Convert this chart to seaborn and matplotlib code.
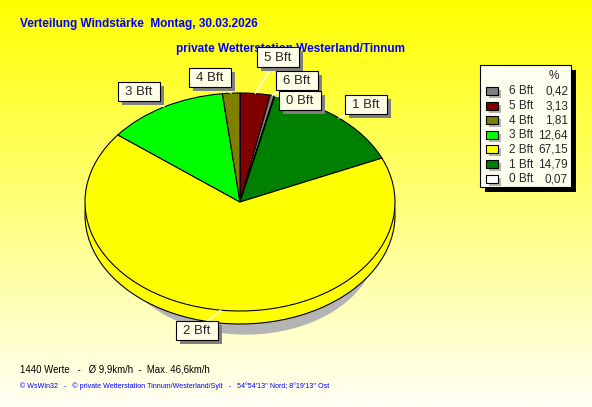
import numpy as np
import matplotlib
matplotlib.use('Agg')
import matplotlib.pyplot as plt
from matplotlib.patches import Rectangle
from matplotlib import font_manager
import seaborn as sns

# Data (Beaufort classes, share in %)
categories = ['0 Bft', '1 Bft', '2 Bft', '3 Bft', '4 Bft', '5 Bft', '6 Bft']
values = [0.07, 14.79, 67.15, 12.64, 1.81, 3.13, 0.42]
value_labels = ['0,07', '14,79', '67,15', '12,64', '1,81', '3,13', '0,42']
colors = ['#ffffff', '#008000', '#ffff00', '#00ff00', '#808000', '#800000', '#808080']
pie_order = [5, 6, 0, 1, 2, 3, 4]   # clockwise from the top
legend_order = [6, 5, 4, 3, 2, 1, 0]

title = 'Verteilung Windstärke  Montag, 30.03.2026'
subtitle = 'private Wetterstation Westerland/Tinnum'
stats_text = '1440 Werte   -   Ø 9,9km/h  -  Max. 46,6km/h'
footer = ("© WsWin32   -   © private Wetterstation Tinnum/Westerland/Sylt   -   "
          "54°54'13'' Nord; 8°19'13'' Ost")

# Layout (pixels)
W, H = 592, 407
cx, cy = 240, 202          # pie centre
rx, ry = 155, 109          # ellipse radii
depth = 13
label_boxes = {'5 Bft': (278, 57), '6 Bft': (297, 80), '0 Bft': (300, 100),
               '1 Bft': (366, 104), '2 Bft': (197, 330), '3 Bft': (139, 91),
               '4 Bft': (210, 77)}

sns.set_theme(style='white')
plt.rcParams['font.family'] = ['Liberation Sans', 'DejaVu Sans']

names = {f.name for f in font_manager.fontManager.ttflist}
narrow = 'Liberation Sans Narrow' in names
head_font = ['Liberation Sans Narrow'] if narrow else ['Liberation Sans']
head_size = 10 if narrow else 8.5

fig = plt.figure(figsize=(W / 100, H / 100), dpi=100)

# background gradient
bg = fig.add_axes([0, 0, 1, 1])
grad = np.linspace(0, 245, 256)[:, None]
img = np.ones((256, 2, 3))
img[:, :, 2] = grad / 255
bg.imshow(img, aspect='auto', extent=[0, 1, 0, 1])
bg.axis('off')

# pie axes: data units = ellipse radii
ax = fig.add_axes([0, 0, 1, 1])
ax.patch.set_alpha(0)

vals = [values[i] for i in pie_order]
cols = sns.color_palette([colors[i] for i in pie_order])
edge = dict(edgecolor='black', linewidth=0.8)

# shadow
ax.pie(vals, colors=['#b4b4b4'] * len(vals), startangle=90, counterclock=False,
       radius=0.85, center=(6 / rx, -40 / ry), wedgeprops=dict(linewidth=0))
# side (depth)
ax.pie(vals, colors=cols, startangle=90, counterclock=False,
       center=(0, -depth / ry), wedgeprops=edge)
# top surface
wedges, _ = ax.pie(vals, colors=cols, startangle=90, counterclock=False,
                   wedgeprops=edge)

ax.set_xlim(-cx / rx, (W - cx) / rx)
ax.set_ylim(-(H - cy) / ry, cy / ry)
ax.set_aspect('auto')
ax.axis('off')


def px(x, y):
    # pixel (from top-left) to pie data coords
    return (x - cx) / rx, (cy - y) / ry


# titles
tx, ty = px(20, 24)
ax.text(tx, ty, title, color='#0000ff', fontsize=head_size, family=head_font,
        fontweight='bold', ha='left', va='center', zorder=1)
tx, ty = px(176, 49)
ax.text(tx, ty, subtitle, color='#0000ff', fontsize=head_size, family=head_font,
        fontweight='bold', ha='left', va='center', zorder=1)

# labels with leader lines
bw, bh = 42, 19
for w, idx in zip(wedges, pie_order):
    name = categories[idx]
    mid = np.deg2rad((w.theta1 + w.theta2) / 2)
    ax0, ay0 = np.cos(mid), np.sin(mid)
    bx, by = label_boxes[name]
    ax.plot([ax0, px(bx, by)[0]], [ay0, px(bx, by)[1]], color='white', lw=1, zorder=5)
    x0, y0 = px(bx - bw / 2 + 4, by + bh / 2 + 4)
    ax.add_patch(Rectangle((x0, y0), bw / rx, bh / ry, facecolor='#808080',
                           edgecolor='none', zorder=6))
    x0, y0 = px(bx - bw / 2, by + bh / 2)
    ax.add_patch(Rectangle((x0, y0), bw / rx, bh / ry, facecolor='#ffffe8',
                           edgecolor='black', lw=0.8, zorder=7))
    tx, ty = px(bx, by + 1)
    ax.text(tx, ty, name, ha='center', va='center', fontsize=9.5, zorder=8)

# legend box
lx0, ly0, lx1, ly1 = 480, 65, 571, 187
x0, y0 = px(lx0 + 5, ly1 + 5)
ax.add_patch(Rectangle((x0, y0), (lx1 - lx0) / rx, (ly1 - ly0) / ry,
                       facecolor='black', edgecolor='none', zorder=6))
x0, y0 = px(lx0, ly1)
ax.add_patch(Rectangle((x0, y0), (lx1 - lx0) / rx, (ly1 - ly0) / ry,
                       facecolor='#fffff0', edgecolor='black', lw=0.8, zorder=7))
tx, ty = px(554, 76)
ax.text(tx, ty, '%', ha='center', va='center', fontsize=8.5, zorder=8)
for row, idx in enumerate(legend_order):
    yy = 91 + row * 14.6
    sx, sy = px(489, yy + 7)
    ax.add_patch(Rectangle((sx, sy), 12 / rx, 8 / ry, facecolor='#b4b4b4',
                           edgecolor='none', zorder=8))
    sx, sy = px(486, yy + 4)
    ax.add_patch(Rectangle((sx, sy), 12 / rx, 8 / ry, facecolor=colors[idx],
                           edgecolor='black', lw=0.8, zorder=9))
    tx, ty = px(509, yy + 0.5)
    ax.text(tx, ty, categories[idx], ha='left', va='center', fontsize=8.5, zorder=9)
    tx, ty = px(568, yy + 0.5)
    ax.text(tx, ty, value_labels[idx], ha='right', va='center', fontsize=8.5, zorder=9)

# footer
fig.text(20 / W, 1 - 369 / H, stats_text, color='black', fontsize=6.9,
         ha='left', va='center')
fig.text(20 / W, 1 - 386 / H, footer, color='#0000ff', fontsize=5.1,
         ha='left', va='center')

fig.savefig('out.png', dpi=100)
